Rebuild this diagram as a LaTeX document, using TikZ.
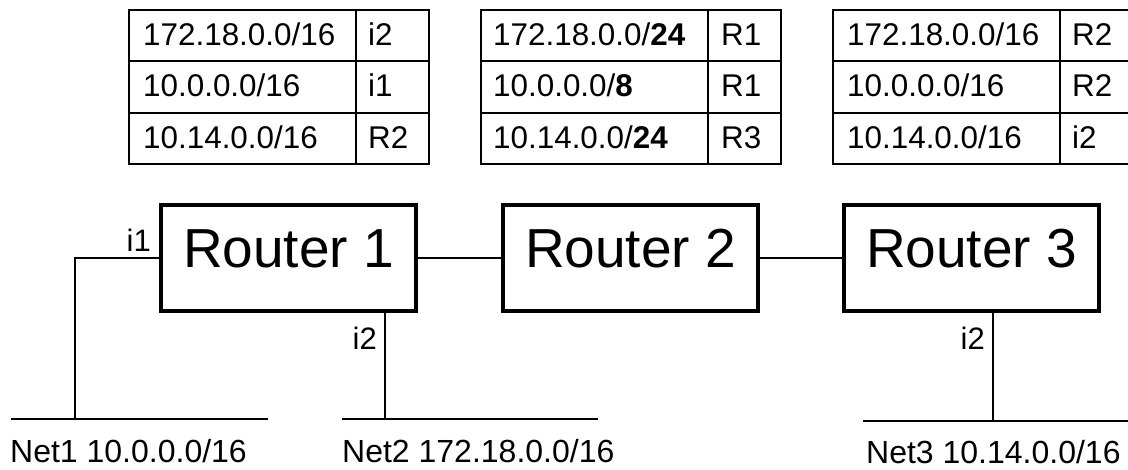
\documentclass[tikz,border=0pt]{standalone}
\usepackage{fontspec}
\setmainfont{Liberation Sans}
\begin{document}
\begin{tikzpicture}[x=1pt,y=-1pt,
  cell/.style={draw, line width=2pt, anchor=north west, minimum height=51.33pt, inner sep=0pt},
  wide/.style={cell, minimum width=227pt},
  narrow/.style={cell, minimum width=73pt},
  txt/.style={inner sep=0pt, anchor=base west, text depth=0pt, font=\fontsize{31.4}{37}\selectfont},
  router/.style={draw, line width=4.5pt, inner sep=0pt, minimum width=255pt,
    minimum height=106pt, text height=63pt, text depth=43pt, anchor=base,
    font=\fontsize{55}{60}\selectfont},
  wire/.style={line width=1.6pt},
  netline/.style={line width=2pt},
  lbl/.style={inner sep=0pt, text depth=0pt, font=\fontsize{31}{37}\selectfont},
  netlbl/.style={inner sep=0pt, anchor=base west, text depth=0pt, font=\fontsize{32}{38}\selectfont}]
\useasboundingbox (0,0) rectangle (1128,470);
% table 1
\node[wide]   (t1a) at (128,9)      {};
\node[narrow] (t1b) at (355,9)      {};
\node[wide]   (t1c) at (128,60.33)  {};
\node[narrow] (t1d) at (355,60.33)  {};
\node[wide]   (t1e) at (128,111.66) {};
\node[narrow] (t1f) at (355,111.66) {};
\node[txt] (x1a) at (143,45.5)  {172.18.0.0/16};
\node[txt] (x1b) at (368,45.5)  {i2};
\node[txt] (x1c) at (143,96.8)  {10.0.0.0/16};
\node[txt] (x1d) at (368,96.8)  {i1};
\node[txt] (x1e) at (143,148.1) {10.14.0.0/16};
\node[txt] (x1f) at (368,148.1) {R2};
% table 2
\node[wide]   (t2a) at (480,9)      {};
\node[narrow] (t2b) at (707,9)      {};
\node[wide]   (t2c) at (480,60.33)  {};
\node[narrow] (t2d) at (707,60.33)  {};
\node[wide]   (t2e) at (480,111.66) {};
\node[narrow] (t2f) at (707,111.66) {};
\node[txt] (x2a) at (493,45.5)  {172.18.0.0/\textbf{24}};
\node[txt] (x2b) at (721,45.5)  {R1};
\node[txt] (x2c) at (493,96.8)  {10.0.0.0/\textbf{8}};
\node[txt] (x2d) at (721,96.8)  {R1};
\node[txt] (x2e) at (493,148.1) {10.14.0.0/\textbf{24}};
\node[txt] (x2f) at (721,148.1) {R3};
% table 3
\node[wide]   (t3a) at (832,9)      {};
\node[narrow] (t3b) at (1059,9)     {};
\node[wide]   (t3c) at (832,60.33)  {};
\node[narrow] (t3d) at (1059,60.33) {};
\node[wide]   (t3e) at (832,111.66) {};
\node[narrow] (t3f) at (1059,111.66){};
\node[txt] (x3a) at (847,45.5)  {172.18.0.0/16};
\node[txt] (x3b) at (1072,45.5) {R2};
\node[txt] (x3c) at (847,96.8)  {10.0.0.0/16};
\node[txt] (x3d) at (1072,96.8) {R2};
\node[txt] (x3e) at (847,148.1) {10.14.0.0/16};
\node[txt] (x3f) at (1072,148.1){i2};
% routers
\node[router] (r1) at (288.5,268) {Router 1};
\node[router] (r2) at (630.5,268) {Router 2};
\node[router] (r3) at (971.5,268) {Router 3};
% networks
\coordinate (n1a) at (11,419);
\coordinate (n1b) at (268,419);
\coordinate (n1t) at (75,419);
\coordinate (n2a) at (342,419);
\coordinate (n2b) at (598,419);
\coordinate (n2t) at (385,419);
\coordinate (n3a) at (863,421);
\coordinate (n3b) at (1132,421);
\coordinate (n3t) at (993,421);
\draw[netline] (n1a) -- (n1b);
\draw[netline] (n2a) -- (n2b);
\draw[netline] (n3a) -- (n3b);
% connectors
\draw[wire] (r1.west) -| (n1t);
\draw[wire] (r1.east) -- (r2.west);
\draw[wire] (r2.east) -- (r3.west);
\draw[wire] (r1.south -| n2t) -- (n2t);
\draw[wire] (r3.south -| n3t) -- (n3t);
% interface labels
\node[lbl, anchor=base east] (li1) at (151,252) {i1};
\node[lbl, anchor=base east] (li2a) at (377,350) {i2};
\node[lbl, anchor=base east] (li2b) at (985,350) {i2};
% network labels
\node[netlbl] (ln1) at (10,462) {Net1 10.0.0.0/16};
\node[netlbl] (ln2) at (342,462) {Net2 172.18.0.0/16};
\node[netlbl] (ln3) at (866,463) {Net3 10.14.0.0/16};
\end{tikzpicture}
\end{document}
